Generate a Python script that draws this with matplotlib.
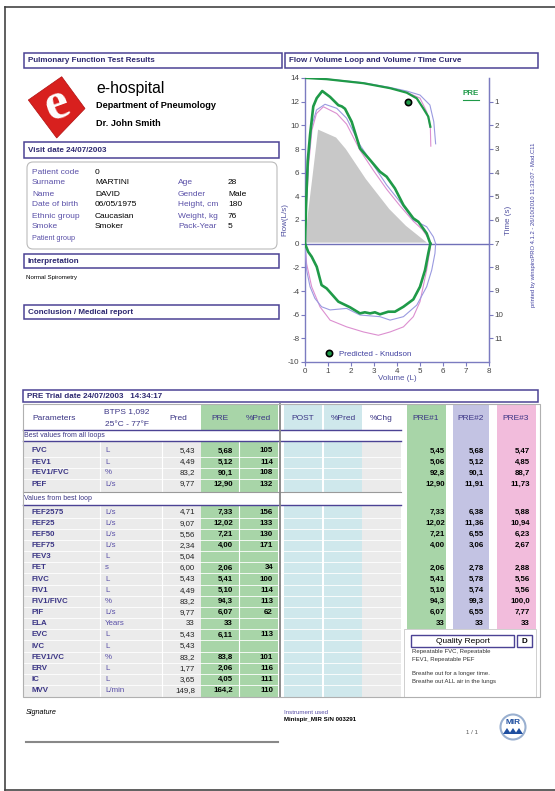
import matplotlib
matplotlib.use('Agg')
import matplotlib.pyplot as plt
from matplotlib.patches import Rectangle, FancyBboxPatch, Polygon, Circle
from matplotlib.lines import Line2D

plt.rcParams['font.family'] = ['Liberation Sans', 'DejaVu Sans']
plt.rcParams['axes.unicode_minus'] = False

# ---------------- data ----------------
# Flow / volume loops (volume L, flow L/s)
pre1_exp_vol = [0, 0.05, 0.12, 0.22, 0.36, 0.51, 0.75, 1.09, 1.45, 1.6, 1.74, 2.03, 2.39, 2.83, 3.26, 3.55, 3.91, 4.28, 4.71, 4.93, 5.29, 5.45]
pre1_exp_flow = [0, 3.5, 7.0, 9.2, 11.6, 12.3, 12.9, 12.4, 11.7, 11.6, 11.4, 10.3, 8.05, 7.07, 6.08, 5.66, 4.67, 3.26, 2.14, 1.85, 0.87, 0]
pre1_ins_vol = [0, 0.14, 0.29, 0.51, 0.72, 0.94, 1.45, 1.96, 2.39, 2.6, 2.83, 3.04, 3.26, 3.62, 3.91, 4.28, 4.71, 5.0, 5.22, 5.36, 5.45]
pre1_ins_flow = [0, -0.69, -1.1, -1.95, -3.5, -3.78, -4.9, -5.38, -5.89, -5.8, -5.89, -5.8, -5.97, -5.75, -5.75, -5.33, -4.71, -3.64, -2.23, -0.82, 0]

pre2_exp_vol = [0, 0.05, 0.15, 0.3, 0.5, 0.87, 1.38, 1.81, 2.39, 2.97, 3.55, 4.13, 4.71, 5.29, 5.58, 5.68]
pre2_exp_flow = [0, 3.0, 7.0, 10.0, 11.3, 11.78, 11.44, 10.6, 8.34, 6.65, 4.96, 3.54, 2.0, 1.43, 0.58, 0]
pre2_ins_vol = [0, 0.07, 0.22, 0.43, 0.72, 1.09, 1.81, 2.39, 3.26, 3.7, 4.28, 4.86, 5.29, 5.51, 5.65, 5.68]
pre2_ins_flow = [0, -2.23, -3.64, -4.62, -5.33, -5.6, -5.47, -6.03, -6.17, -6.46, -6.17, -5.19, -3.64, -2.23, -0.82, 0]

pre3_exp_vol = [0, 0.05, 0.15, 0.3, 0.5, 0.8, 1.38, 1.81, 2.39, 2.97, 3.55, 4.13, 4.71, 5.1, 5.35, 5.47]
pre3_exp_flow = [0, 2.5, 6.5, 9.6, 11.0, 11.57, 11.0, 10.1, 7.9, 6.2, 4.6, 3.2, 1.9, 1.2, 0.5, 0]
pre3_ins_vol = [0, 0.07, 0.29, 0.65, 1.09, 1.81, 2.54, 3.19, 3.7, 4.28, 4.71, 5.0, 5.29, 5.43, 5.47]
pre3_ins_flow = [0, -1.7, -3.64, -5.33, -6.46, -7.03, -7.46, -7.74, -7.46, -7.03, -6.17, -4.9, -2.23, -0.56, 0]

pred_vol = [0, 0.05, 0.3, 0.53, 1.38, 1.81, 2.68, 3.7, 4.42, 5.43]
pred_flow = [0, 2.0, 6.0, 9.77, 9.04, 8.05, 5.52, 2.98, 1.57, 0]

# Volume / time curves (volume L, time s)
pre1_vt_vol = [0, 0.94, 2.54, 3.7, 4.42, 4.86, 5.14, 5.36, 5.45]
pre1_vt_time = [0, 0.05, 0.22, 0.43, 0.62, 0.86, 1.28, 1.63, 2.06]
pre2_vt_vol = [0, 0.94, 2.54, 3.7, 4.42, 5.0, 5.43, 5.6, 5.68]
pre2_vt_time = [0, 0.04, 0.2, 0.4, 0.55, 0.72, 1.14, 1.85, 2.78]
pre3_vt_vol = [0, 0.94, 2.54, 3.7, 4.42, 5.0, 5.29, 5.45, 5.47]
pre3_vt_time = [0, 0.05, 0.22, 0.43, 0.6, 0.85, 1.42, 2.1, 2.88]
pred_fev1_vol = 4.49
pred_fev1_time = 1.0

# Patient info
info_labels = ['Patient code', 'Surname', 'Name', 'Date of birth', 'Ethnic group', 'Smoke', 'Patient group']
info_values = ['0', 'MARTINI', 'DAVID', '06/05/1975', 'Caucasian', 'Smoker', '']
info_labels2 = ['', 'Age', 'Gender', 'Height, cm', 'Weight, kg', 'Pack-Year', '']
info_values2 = ['', '28', 'Male', '180', '76', '5', '']

# Table
header_cols = ['Pred', 'PRE', '%Pred', 'POST', '%Pred', '%Chg', 'PRE#1', 'PRE#2', 'PRE#3']
params1 = ['FVC', 'FEV1', 'FEV1/FVC', 'PEF']
units1 = ['L', 'L', '%', 'L/s']
pred1 = ['5,43', '4,49', '83,2', '9,77']
pre_1 = ['5,68', '5,12', '90,1', '12,90']
pct_1 = ['105', '114', '108', '132']
t1_1 = ['5,45', '5,06', '92,8', '12,90']
t2_1 = ['5,68', '5,12', '90,1', '11,91']
t3_1 = ['5,47', '4,85', '88,7', '11,73']

params2 = ['FEF2575', 'FEF25', 'FEF50', 'FEF75', 'FEV3', 'FET', 'FIVC', 'FIV1', 'FIV1/FIVC', 'PIF', 'ELA',
           'EVC', 'IVC', 'FEV1/VC', 'ERV', 'IC', 'MVV']
units2 = ['L/s', 'L/s', 'L/s', 'L/s', 'L', 's', 'L', 'L', '%', 'L/s', 'Years', 'L', 'L', '%', 'L', 'L', 'L/min']
pred2 = ['4,71', '9,07', '5,56', '2,34', '5,04', '6,00', '5,43', '4,49', '83,2', '9,77', '33', '5,43', '5,43',
         '83,2', '1,77', '3,65', '149,8']
pre_2 = ['7,33', '12,02', '7,21', '4,00', '', '2,06', '5,41', '5,10', '94,3', '6,07', '33', '6,11', '',
         '83,8', '2,06', '4,05', '164,2']
pct_2 = ['156', '133', '130', '171', '', '34', '100', '114', '113', '62', '', '113', '', '101', '116', '111', '110']
t1_2 = ['7,33', '12,02', '7,21', '4,00', '', '2,06', '5,41', '5,10', '94,3', '6,07', '33']
t2_2 = ['6,38', '11,36', '6,55', '3,06', '', '2,78', '5,78', '5,74', '99,3', '6,55', '33']
t3_2 = ['5,88', '10,94', '6,23', '2,67', '', '2,88', '5,56', '5,56', '100,0', '7,77', '33']

# ---------------- figure ----------------
W, H = 555, 791
fig = plt.figure(figsize=(5.55, 7.91), dpi=100)
P = fig.add_axes([0, 0, 1, 1])
P.set_xlim(0, W)
P.set_ylim(H, 0)
P.axis('off')

PURPLE = '#4b4294'
NAVY = '#2d2870'
LAB = '#5a50a8'
GREEN = '#1f9a48'
BLUE = '#9a9ae0'
PINK = '#dc8fd0'

# page border
P.plot([4.5, 4.5], [7, 790], color='#444444', lw=1.2)
P.plot([4.5, 555], [7, 7], color='#444444', lw=1.2)
P.plot([4.5, 555], [790, 790], color='#444444', lw=1.2)


def box(x0, y0, x1, y1, title):
    P.add_patch(Rectangle((x0, y0), x1 - x0, y1 - y0, fill=False, ec=PURPLE, lw=1.1))
    P.text(x0 + 4, (y0 + y1) / 2 + 0.3, title, fontsize=5.8, fontweight='bold', color=NAVY, va='center')


box(24, 53, 282, 68, 'Pulmonary Function Test Results')
box(285, 53, 538, 68, 'Flow / Volume Loop and Volume / Time Curve')
box(24, 142, 279, 158, 'Visit date 24/07/2003')
box(24, 254, 279, 268, 'Interpretation')
box(24, 305, 279, 319, 'Conclusion / Medical report')
box(23, 390, 538, 402, 'PRE Trial date 24/07/2003   14:34:17')

# logo
P.add_patch(Polygon([(61.7, 76.7), (85, 108.5), (56.7, 138), (28.3, 100)], closed=True,
                    fc='#d8201e', ec='#b01010', lw=0.5))
P.text(57, 105, 'e', fontsize=38, color='white', fontweight='bold', family='Liberation Serif',
       ha='center', va='center', rotation=20)
P.text(96, 89, 'e-hospital', fontsize=11.3, va='center', color='black')
P.text(96, 106, 'Department of Pneumology', fontsize=6.6, fontweight='bold', va='center')
P.text(96, 123, 'Dr. John Smith', fontsize=6.6, fontweight='bold', va='center')

# patient box
P.add_patch(FancyBboxPatch((27, 162), 250, 87, boxstyle='round,pad=0,rounding_size=6',
                           ec='#bbbbbb', fc='white', lw=0.8))
rows_y = [172, 183, 194, 205, 216, 227, 238]
for i, y in enumerate(rows_y):
    fs = 5.2 if info_labels[i] == 'Patient group' else 6.0
    P.text(32, y, info_labels[i], fontsize=fs, color=LAB, va='center')
    P.text(95, y, info_values[i], fontsize=6.0, color='black', va='center')
    P.text(178, y, info_labels2[i], fontsize=6.0, color=LAB, va='center')
    P.text(228, y, info_values2[i], fontsize=6.0, color='black', va='center')

P.text(26, 277, 'Normal Spirometry', fontsize=4.4, va='center')

# ---------------- chart ----------------
ax = fig.add_axes([305 / W, 1 - 362 / H, 184 / W, 284 / H])
ax.set_xlim(0, 8)
ax.set_ylim(-10, 14)
ax.fill(pred_vol, pred_flow, fc='#c8c8c8', ec='white', lw=1.5, zorder=1)
ax.axhline(0, color='#7070b8', lw=1.0, zorder=2)
ax.plot(pre3_exp_vol, pre3_exp_flow, color=PINK, lw=0.8, zorder=3)
ax.plot(pre3_ins_vol, pre3_ins_flow, color=PINK, lw=0.8, zorder=3)
ax.plot(pre2_exp_vol, pre2_exp_flow, color=BLUE, lw=0.8, zorder=3)
ax.plot(pre2_ins_vol, pre2_ins_flow, color=BLUE, lw=0.8, zorder=3)
ax.plot(pre1_exp_vol, pre1_exp_flow, color=GREEN, lw=1.9, zorder=4)
ax.plot(pre1_ins_vol, pre1_ins_flow, color=GREEN, lw=1.9, zorder=4)
ax.set_xticks(range(0, 9))
ax.set_yticks(range(-10, 15, 2))
for s in ['left', 'bottom', 'right']:
    ax.spines[s].set_color('#7b7bc0')
    ax.spines[s].set_linewidth(1.0)
ax.spines['top'].set_visible(False)
ax.tick_params(colors='#7b7bc0', labelcolor='#444444', labelsize=5.8, length=3, width=0.8, pad=1)
ax.set_xlabel('Volume (L)', fontsize=5.8, color='#5050a0', labelpad=0)
ax.set_ylabel('Flow(L/s)', fontsize=5.8, color='#5050a0', labelpad=0)
ax.patch.set_alpha(0)

ax2 = ax.twinx()
ax2.set_ylim(12, 0)
ax2.set_xlim(0, 8)
ax2.plot(pre3_vt_vol, pre3_vt_time, color=PINK, lw=0.8)
ax2.plot(pre2_vt_vol, pre2_vt_time, color=BLUE, lw=0.8)
ax2.plot(pre1_vt_vol, pre1_vt_time, color=GREEN, lw=1.6)
ax2.plot([pred_fev1_vol], [pred_fev1_time], 'o', ms=4.5, mfc=GREEN, mec='black', mew=1.2)
ax2.set_yticks(range(1, 12))
for s in ['left', 'bottom', 'top']:
    ax2.spines[s].set_visible(False)
ax2.spines['right'].set_color('#7b7bc0')
ax2.tick_params(colors='#7b7bc0', labelcolor='#444444', labelsize=5.8, length=3, width=0.8, pad=1)
ax2.set_ylabel('Time (s)', fontsize=5.8, color='#5050a0', labelpad=1)
ax2.text(0.902, 0.944, 'PRE', transform=ax2.transAxes, fontsize=5.8, fontweight='bold', color=GREEN,
         ha='center', va='center')
ax2.plot([0.86, 0.945], [0.922, 0.922], transform=ax2.transAxes, color=GREEN, lw=0.8)
leg_h = Line2D([], [], marker='o', ls='', ms=4.5, mfc=GREEN, mec='black', mew=1.2)
ax2.legend([leg_h], ['Predicted - Knudson'], loc='lower left', bbox_to_anchor=(0.07, 0.003),
           frameon=False, fontsize=5.8, handletextpad=0.2, borderaxespad=0, labelcolor='#4040a0')

P.text(533, 225, 'printed by winspiroPRO 4.1.2 - 26/10/2010 11:33:07 - Mod.C11', rotation=90,
       fontsize=4.2, color='#4040a0', ha='center', va='center')

# ---------------- table ----------------
TOP, HB, S1B, G1B, S2B, BOT = 404, 430, 441, 492, 505, 697
GREY = '#ebebeb'
LGREEN = '#a8d5a8'
LBLUE = '#cfe8ec'


def rect(x0, y0, x1, y1, fc, ec='none', lw=0, z=1):
    P.add_patch(Rectangle((x0, y0), x1 - x0, y1 - y0, fc=fc, ec=ec, lw=lw, zorder=z))


for (a, b) in [(S1B, G1B), (S2B, BOT)]:
    rect(23, a, 201, b, GREY)
    rect(201, a, 278, b, LGREEN)
    rect(284, a, 322, b, LBLUE)
    rect(324, a, 362, b, LBLUE)
    rect(362, a, 401, b, GREY)
rect(201, TOP, 278, HB, LGREEN)
rect(284, TOP, 322, HB, LBLUE)
rect(324, TOP, 362, HB, LBLUE)

# row separators
g1_y = [451, 462, 473, 484]
g2_y = [512 + 11.17 * i for i in range(len(params2))]
for y in [456.5, 467.5, 478.5]:
    P.plot([23, 401], [y, y], color='white', lw=0.6, zorder=2)
for y in g2_y[:-1]:
    P.plot([23, 401], [y + 5.58, y + 5.58], color='white', lw=0.6, zorder=2)
for x in [100, 162, 239]:
    for (a, b) in [(S1B, G1B), (S2B, BOT)]:
        P.plot([x, x], [a, b], color='white', lw=0.8, zorder=2)

# PRE#n columns
ela_bottom = g2_y[10] + 5.6
rect(407, TOP, 446, ela_bottom, LGREEN)
rect(453, TOP, 489, ela_bottom, '#c3c3e3')
rect(497, TOP, 536, ela_bottom, '#f2bcdc')
rect(404, ela_bottom, 536, BOT, 'white', ec='#c8c8c8', lw=0.6)

# lines
for y in [HB, S1B, S2B]:
    P.plot([23, 401], [y, y], color=PURPLE, lw=1.0, zorder=3)
P.plot([23, 401], [G1B, G1B], color='#9a9a9a', lw=0.8, zorder=3)
P.plot([279.5, 279.5], [TOP, BOT], color='#858585', lw=1.3, zorder=3)
P.add_patch(Rectangle((23, TOP), 517, BOT - TOP, fill=False, ec='#b0b0b0', lw=0.8, zorder=3))

HC = '#3b3585'
P.text(32, 418, 'Parameters', fontsize=6.0, color=HC, va='center')
P.text(127, 412, 'BTPS 1,092', fontsize=6.0, color=HC, va='center', ha='center')
P.text(127, 424, '25°C - 77°F', fontsize=6.0, color=HC, va='center', ha='center')
for x, t in zip([178, 220, 258, 303, 343, 381, 426, 471, 516], header_cols):
    P.text(x, 418, t, fontsize=6.0, color=HC, va='center', ha='center')
P.text(24, 435.5, 'Best values from all loops', fontsize=5.0, color=HC, va='center')
P.text(24, 498.5, 'Values from best loop', fontsize=5.0, color=HC, va='center')


def row(y, par, unit, pr, pre, pct, a=None, b=None, c=None):
    kw = dict(fontsize=5.7, va='center', zorder=4)
    P.text(32, y, par, color=HC, fontweight='bold', **kw)
    P.text(105, y, unit, color=LAB, **kw)
    P.text(195, y, pr, color='#222222', ha='right', **kw)
    P.text(233, y, pre, color='black', ha='right', fontweight='bold', **kw)
    P.text(273, y, pct, color='black', ha='right', fontweight='bold', **kw)
    for x, v in zip([445, 484, 530], [a, b, c]):
        if v:
            P.text(x, y, v, color='black', ha='right', fontweight='bold', **kw)


for i, y in enumerate(g1_y):
    row(y, params1[i], units1[i], pred1[i], pre_1[i], pct_1[i], t1_1[i], t2_1[i], t3_1[i])
for i, y in enumerate(g2_y):
    if i < len(t1_2):
        row(y, params2[i], units2[i], pred2[i], pre_2[i], pct_2[i], t1_2[i], t2_2[i], t3_2[i])
    else:
        row(y, params2[i], units2[i], pred2[i], pre_2[i], pct_2[i])

# quality report
P.add_patch(Rectangle((411, 635), 103, 12, fill=False, ec=PURPLE, lw=1.0, zorder=4))
P.text(462.5, 641.3, 'Quality Report', fontsize=6.0, ha='center', va='center', zorder=5)
P.add_patch(Rectangle((517, 635), 15, 12, fill=False, ec=PURPLE, lw=1.0, zorder=4))
P.text(524.5, 641.3, 'D', fontsize=5.8, fontweight='bold', ha='center', va='center', zorder=5)
for y, t in [(651, 'Repeatable FVC, Repeatable'), (659, 'FEV1, Repeatable PEF'),
             (673, 'Breathe out for a longer time.'), (682, 'Breathe out ALL air in the lungs')]:
    P.text(412, y, t, fontsize=4.3, color='#333333', va='center', zorder=5)

# footer
P.text(26, 713, 'Signature', fontsize=5.2, style='italic', va='center')
P.plot([26, 278], [742, 742], color='#888888', lw=1.5)
P.text(284, 712, 'Instrument used', fontsize=4.4, color=LAB, va='center')
P.text(284, 720, 'Minispir_MIR S/N 003291', fontsize=4.4, fontweight='bold', va='center')
P.text(472, 733, '1 / 1', fontsize=4.4, color='#555555', va='center', ha='center')
P.add_patch(Circle((513, 727), 12.5, fc='white', ec='#9ab0d0', lw=1.5))
P.text(513, 723, 'MIR', fontsize=6, fontweight='bold', color='#1f4fa0', ha='center', va='center')
for dx in [-6, 0, 6]:
    P.add_patch(Polygon([(513 + dx - 4, 734), (513 + dx, 728), (513 + dx + 4, 734)], closed=True,
                        fc='#1f4fa0', ec='none'))

fig.savefig('out.png', dpi=100)
